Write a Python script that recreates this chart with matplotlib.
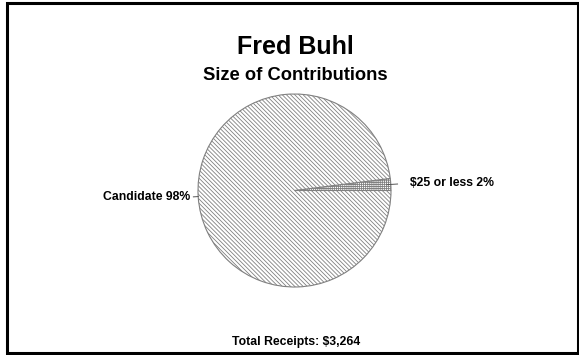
import numpy as np
import matplotlib
matplotlib.use("Agg")
import matplotlib.pyplot as plt
from matplotlib.patches import Rectangle

title = "Fred Buhl"
subtitle = "Size of Contributions"
footer = "Total Receipts: $3,264"
categories = ["$25 or less", "Candidate"]
shares = [2, 98]
hatches = ["++++++++", "\\" * 8]

plt.rcParams['font.family'] = ['Liberation Sans', 'DejaVu Sans']
plt.rcParams['hatch.linewidth'] = 0.6
plt.rcParams['hatch.color'] = '#959595'

W, H = 579, 355
fig = plt.figure(figsize=(W / 100, H / 100), dpi=100)
fig.patch.set_facecolor('white')

# outer frame
fig.add_artist(Rectangle((7 / W, 2.5 / H), 570.5 / W, 350 / H, transform=fig.transFigure,
                         fill=False, edgecolor='black', linewidth=2.2))

cx, cy, r = 294.5, 190.5, 96.5
ax = fig.add_axes([(cx - r) / W, (H - cy - r) / H, 2 * r / W, 2 * r / H])

wedges, _ = ax.pie(shares, startangle=0, counterclock=True, radius=1,
                   colors=['white', 'white'],
                   wedgeprops=dict(edgecolor='#808080', linewidth=0.8))
ax.set_xlim(-1, 1)
ax.set_ylim(-1, 1)
ax.set_aspect('equal')
ax.axis('off')
for w, h in zip(wedges, hatches):
    w.set_hatch(h)

for w, cat, s in zip(wedges, categories, shares):
    ang = np.deg2rad((w.theta1 + w.theta2) / 2)
    c, sn = np.cos(ang), np.sin(ang)
    if c > 0:
        r0, r1, rt, ha = 0.96, 1.07, 1.20, 'left'
    else:
        r0, r1, rt, ha = 1.0, 1.05, 1.08, 'right'
    ax.plot([r0 * c, r1 * c], [r0 * sn, r1 * sn], color='#555555', lw=0.7, clip_on=False)
    ax.text(rt * c, rt * sn, f"{cat} {s}%", ha=ha, va='center', fontsize=8.8,
            fontweight='bold', clip_on=False)

fig.text(295 / W, 1 - 47 / H, title, ha='center', va='center', fontsize=18, fontweight='bold')
fig.text(295 / W, 1 - 76 / H, subtitle, ha='center', va='center', fontsize=13.2, fontweight='bold')
fig.text(296 / W, 1 - 342 / H, footer, ha='center', va='center', fontsize=8.8, fontweight='bold')

fig.savefig('out.png', dpi=100)
